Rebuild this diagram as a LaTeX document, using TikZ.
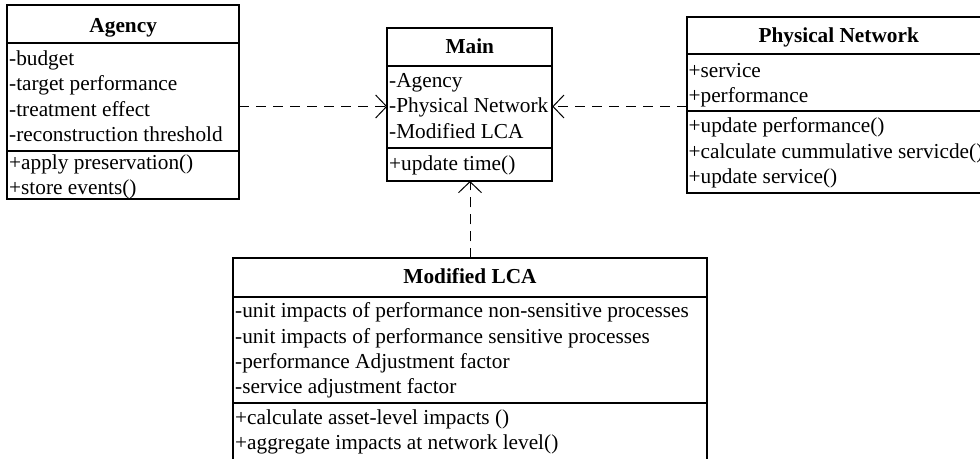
\documentclass[tikz,border=0pt]{standalone}
\usepackage{fontspec}
\setmainfont{Liberation Serif}
\usetikzlibrary{arrows.meta}
\tikzset{
  classbox/.style={draw, line width=1.9pt, inner sep=0pt, outer sep=0pt, anchor=north west},
  sepline/.style={line width=1.9pt},
  ttl/.style={font=\fontsize{21.3}{25.3}\selectfont\bfseries, inner sep=0pt, anchor=base},
  item/.style={font=\fontsize{21.3}{25.3}\selectfont, inner sep=0pt, anchor=base west},
  dep/.style={line width=1pt, dash pattern=on 10pt off 7pt, -{Straight Barb[length=11pt,width=23pt,line width=1pt]}}
}
\begin{document}
\begin{tikzpicture}[x=1pt,y=-1pt]
\useasboundingbox (0,0) rectangle (980,458);
\clip (0,0) rectangle (980,458);

% Agency
\node[classbox, minimum width=231.7pt, minimum height=194pt] (agency) at (7.3,5) {};
\draw[sepline] (7.3,43.3) -- (239,43.3);
\draw[sepline] (7.3,150.7) -- (239,150.7);
\node[ttl] (agt) at (123.2,32) {Agency};
\node[item] (ag1) at (9,65.5) {-budget};
\node[item] (ag2) at (9,90.8) {-target performance};
\node[item] (ag3) at (9,116.1) {-treatment effect};
\node[item] (ag4) at (9,141.4) {-reconstruction threshold};
\node[item] (ag5) at (9,169.3) {+apply preservation()};
\node[item] (ag6) at (9,194.6) {+store events()};

% Main
\node[classbox, minimum width=165pt, minimum height=153.3pt] (main) at (387.3,27.7) {};
\draw[sepline] (387.3,65.7) -- (552.3,65.7);
\draw[sepline] (387.3,147.7) -- (552.3,147.7);
\node[ttl] (mt) at (469.8,53.5) {Main};
\node[item] (m1) at (389,87.5) {-Agency};
\node[item] (m2) at (389,112.8) {-Physical Network};
\node[item] (m3) at (389,138.1) {-Modified LCA};
\node[item] (m4) at (389,170.3) {+update time()};

% Physical Network
\node[classbox, minimum width=304pt, minimum height=176pt] (pn) at (686.7,16.7) {};
\draw[sepline] (686.7,54.3) -- (990.7,54.3);
\draw[sepline] (686.7,111) -- (990.7,111);
\node[ttl] (pnt) at (838.7,42) {Physical Network};
\node[item] (p1) at (688.4,77.2) {+service};
\node[item] (p2) at (688.4,102.5) {+performance};
\node[item] (p3) at (688.4,132.9) {+update performance()};
\node[item] (p4) at (688.4,158.2) {+calculate cummulative servicde()};
\node[item] (p5) at (688.4,183.5) {+update service()};

% Modified LCA
\node[classbox, minimum width=473.4pt, minimum height=210pt] (lca) at (233.3,258.3) {};
\draw[sepline] (233.3,296.7) -- (706.7,296.7);
\draw[sepline] (233.3,403.3) -- (706.7,403.3);
\node[ttl] (lt) at (470,283.5) {Modified LCA};
\node[item] (l1) at (235,317.7) {-unit impacts of performance non-sensitive processes};
\node[item] (l2) at (235,343.0) {-unit impacts of performance sensitive processes};
\node[item] (l3) at (235,368.3) {-performance Adjustment factor};
\node[item] (l4) at (235,393.6) {-service adjustment factor};
\node[item] (l5) at (235,424.5) {+calculate asset-level impacts ()};
\node[item] (l6) at (235,449.8) {+aggregate impacts at network level()};

% Dependencies
\coordinate (aM) at (main.west |- 0,106.5);
\coordinate (pM) at (main.east |- 0,106.5);
\draw[dep] (agency.east |- aM) -- (aM);
\draw[dep] (pn.west |- pM) -- (pM);
\draw[dep] (lca.north) -- (lca.north |- main.south);
\end{tikzpicture}
\end{document}
